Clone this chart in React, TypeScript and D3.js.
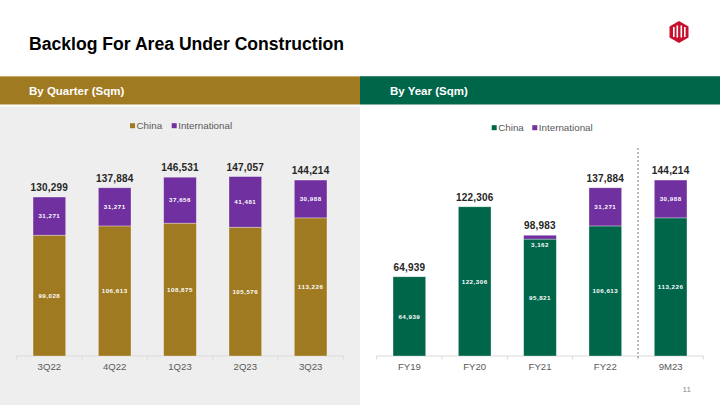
import React from "react";
import * as d3 from "d3";

const quarters = ["3Q22", "4Q22", "1Q23", "2Q23", "3Q23"];
const quarterChina = [99028, 106613, 108875, 105576, 113226];
const quarterIntl = [31271, 31271, 37656, 41481, 30988];

const years = ["FY19", "FY20", "FY21", "FY22", "9M23"];
const yearChina = [64939, 122306, 95821, 106613, 113226];
const yearIntl = [0, 0, 3162, 31271, 30988];

const seriesNames = ["China", "International"];

const GOLD = "#a07a20";
const GREEN = "#00664a";
const PURPLE = "#7030a0";
const FONT = "'Liberation Sans', Arial, sans-serif";
const fmt = d3.format(",");

type PanelProps = {
  x0: number;
  cats: string[];
  china: number[];
  intl: number[];
  chinaColor: string;
  legendX: number[];
  legendY: number;
  divider?: boolean;
};

function Panel({ x0, cats, china, intl, chinaColor, legendX, legendY, divider }: PanelProps) {
  const x = d3
    .scaleBand<string>()
    .domain(cats)
    .range([x0 + 16.7, x0 + 343.3])
    .paddingInner(0.5)
    .paddingOuter(0.25);
  const y = d3.scaleLinear().domain([0, 160000]).range([356, 356 - 160 * 1.22]);
  const step = x.step();
  const left = x0 + 16.7;
  const boundaries = d3.range(cats.length + 1).map((i) => left + i * step);
  const colors = [chinaColor, PURPLE];

  return (
    <g>
      {/* legend */}
      {seriesNames.map((s, i) => (
        <g key={s}>
          <rect x={legendX[i]} y={legendY - 2.5} width={5} height={5} fill={colors[i]} />
          <text
            x={legendX[i] + 6.5}
            y={legendY + 3.4}
            fontSize={9.8}
            fill="#595959"
            fontFamily={FONT}
          >
            {s}
          </text>
        </g>
      ))}
      {/* axis */}
      <line x1={left} x2={left + step * cats.length} y1={356} y2={356} stroke="#d9d9d9" strokeWidth={1} />
      {boundaries.map((b, i) => (
        <line key={i} x1={b} x2={b} y1={356} y2={359.5} stroke="#d9d9d9" strokeWidth={1} />
      ))}
      {cats.map((c, i) => {
        const bx = x(c)!;
        const bw = x.bandwidth();
        const total = china[i] + intl[i];
        const yc = y(china[i]);
        const yt = y(total);
        const cx = bx + bw / 2;
        return (
          <g key={c}>
            <rect x={bx} y={yc} width={bw} height={356 - yc} fill={chinaColor} stroke="rgba(255,255,255,0.45)" strokeWidth={0.7} />
            {intl[i] > 0 && (
              <rect x={bx} y={yt} width={bw} height={yc - yt} fill={PURPLE} stroke="rgba(255,255,255,0.45)" strokeWidth={0.7} />
            )}
            <text
              x={cx}
              y={(yc + 356) / 2 + 2.2}
              textAnchor="middle"
              fontSize={6.2}
              fontWeight="bold"
              fill="#ffffff"
              letterSpacing={0.5}
              fontFamily={FONT}
            >
              {fmt(china[i])}
            </text>
            {intl[i] > 0 && (
              <text
                x={cx}
                y={yc - yt < 12 ? yc + 7.5 : (yt + yc) / 2 + 2.2}
                textAnchor="middle"
                fontSize={6.2}
                fontWeight="bold"
                fill="#ffffff"
                letterSpacing={0.5}
                fontFamily={FONT}
              >
                {fmt(intl[i])}
              </text>
            )}
            <text
              x={cx}
              y={yt - 6}
              textAnchor="middle"
              fontSize={10}
              fontWeight="bold"
              fill="#262626"
              letterSpacing={0.2}
              fontFamily={FONT}
            >
              {fmt(total)}
            </text>
            <text
              x={cx}
              y={370.3}
              textAnchor="middle"
              fontSize={9.6}
              fill="#595959"
              fontFamily={FONT}
            >
              {c}
            </text>
          </g>
        );
      })}
      {divider && (
        <line
          x1={boundaries[cats.length - 1]}
          x2={boundaries[cats.length - 1]}
          y1={148}
          y2={358}
          stroke="#a6a6a6"
          strokeWidth={1.5}
          strokeDasharray="2 2"
        />
      )}
    </g>
  );
}

export default function App() {
  return (
    <svg
      width={720}
      height={405}
      style={{ position: "absolute", left: 0, top: 0, background: "#ffffff" }}
    >
      <rect x={0} y={0} width={720} height={405} fill="#ffffff" />
      {/* title */}
      <text x={29} y={50} fontSize={17.6} fontWeight="bold" fill="#000000" fontFamily={FONT}>
        Backlog For Area Under Construction
      </text>
      {/* logo */}
      <g transform="translate(679,32)">
        <path d="M0,-11 L9.5,-5.5 L9.5,5.5 L0,11 L-9.5,5.5 L-9.5,-5.5 Z" fill="#c8102e" />
        <rect x={-6} y={-5} width={1.6} height={10} fill="#ffffff" />
        <rect x={-2.5} y={-6.5} width={1.6} height={12} fill="#ffffff" />
        <rect x={1.5} y={-6.5} width={1.6} height={12} fill="#ffffff" />
        <rect x={5} y={-5} width={1.6} height={10} fill="#ffffff" />
      </g>
      {/* header bands */}
      <rect x={0} y={76} width={360} height={28.5} fill={GOLD} />
      <rect x={360} y={76} width={360} height={28.5} fill={GREEN} />
      <line x1={0} x2={360} y1={76.5} y2={76.5} stroke="#c9a86a" strokeWidth={1} />
      <line x1={360} x2={720} y1={76.5} y2={76.5} stroke="#3d8a70" strokeWidth={1} />
      <text x={29} y={95} fontSize={11.5} fontWeight="bold" fill="#ffffff" fontFamily={FONT}>
        By Quarter (Sqm)
      </text>
      <text x={390} y={95} fontSize={11.5} fontWeight="bold" fill="#ffffff" fontFamily={FONT}>
        By Year (Sqm)
      </text>
      {/* left panel background */}
      <rect x={0} y={106.5} width={360} height={298.5} fill="#eeeeee" />
      <Panel
        x0={0}
        cats={quarters}
        china={quarterChina}
        intl={quarterIntl}
        chinaColor={GOLD}
        legendX={[130, 171.7]}
        legendY={125.7}
      />
      <Panel
        x0={360}
        cats={years}
        china={yearChina}
        intl={yearIntl}
        chinaColor={GREEN}
        legendX={[491.7, 532.3]}
        legendY={127.7}
        divider
      />
      <text x={686.7} y={392} textAnchor="middle" fontSize={8} fill="#8c8c8c" fontFamily={FONT}>
        11
      </text>
    </svg>
  );
}
